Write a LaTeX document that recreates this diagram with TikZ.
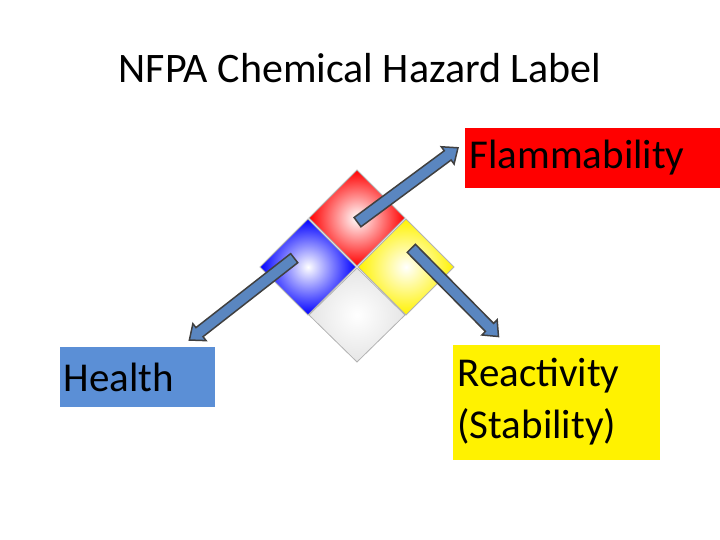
\documentclass[tikz,border=0pt]{standalone}
\usepackage{fontspec}
\setmainfont{Carlito}
\usetikzlibrary{shapes.arrows,calc}
\definecolor{hblue}{HTML}{5B8FD6}
\definecolor{arrblue}{HTML}{5A86C0}
\tikzset{
  sq/.style={draw=gray!60, line width=0.8pt, inner color=white},
  fat/.style={single arrow, draw=black!75, fill=arrblue, line width=1.5pt, inner sep=5pt, single arrow head extend=5pt, single arrow tip angle=80, minimum height=#1},
  lab/.style={font=\fontsize{41}{52}\selectfont, inner sep=0pt}
}
\begin{document}
\begin{tikzpicture}[x=1pt,y=-1pt]
\useasboundingbox (0,0) rectangle (720,540);
\node[font=\fontsize{42}{50}\selectfont, inner sep=0pt] (title) at (360,68) {NFPA Chemical Hazard Label};
% diamond squares
\path[sq, outer color=red] (357,170) -- (405,218) -- (357,266) -- (309,218) -- cycle;
\path[sq, outer color=blue] (308,219) -- (356,267) -- (308,315) -- (260,267) -- cycle;
\path[sq, outer color=yellow!90!orange] (406,219) -- (454,267) -- (406,315) -- (358,267) -- cycle;
\path[sq, outer color=gray!20] (357,268) -- (405,315) -- (357,362) -- (309,315) -- cycle;
% labels
\node[lab, fill=red, minimum width=255pt, minimum height=60pt, text width=245pt, align=left] (flam) at (592,158) {Flammability};
\node[lab, fill=hblue, minimum width=155pt, minimum height=60pt, text width=147pt, align=left] (health) at (137,377) {Health};
\node[lab, fill=yellow, minimum width=207pt, minimum height=115pt, text width=197pt, align=left] (react) at (556,402) {Reactivity\\(Stability)};
% arrows
\coordinate (a1s) at (355,224); \coordinate (a1e) at (455,150);
\coordinate (a2s) at (297,256); \coordinate (a2e) at (192,338);
\coordinate (a3s) at (409,246); \coordinate (a3e) at (496,334);
\node[fat=125pt, rotate={atan2(-(150-224),455-355)}] (arr1) at ($(a1s)!0.5!(a1e)$) {};
\node[fat=133pt, rotate={atan2(-(338-256),192-297)}] (arr2) at ($(a2s)!0.5!(a2e)$) {};
\node[fat=124pt, rotate={atan2(-(334-246),496-409)}] (arr3) at ($(a3s)!0.5!(a3e)$) {};
\end{tikzpicture}
\end{document}
